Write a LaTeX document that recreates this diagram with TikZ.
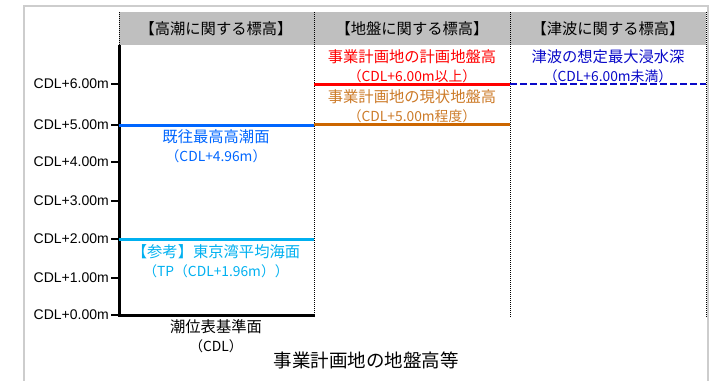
\documentclass[tikz,border=0pt]{standalone}
\usepackage{fontspec}
\newfontfamily\jp{Noto Sans CJK JP}
\newfontfamily\ar{Liberation Sans}
\newcommand\jpa{\jp\fontsize{15.3}{19}\selectfont}
\newcommand\jpb{\jp\fontsize{13.8}{19}\selectfont}
\begin{document}
\begin{tikzpicture}[x=1pt,y=-1pt,
  lab/.style={font=\jpa, inner sep=0pt, align=center},
  ticklab/.style={font=\ar\fontsize{14}{16}\selectfont, anchor=east, inner sep=0pt},
  colsep/.style={black, line width=0.8pt, dash pattern=on 1pt off 1pt},
  lvl/.style={line width=3pt}]
\useasboundingbox (0,0) rectangle (725,380);
\definecolor{hdr}{RGB}{191,191,191}
\definecolor{frm}{RGB}{205,205,205}
\definecolor{hiblue}{RGB}{0,102,255}
\definecolor{cyanl}{RGB}{0,176,240}
\definecolor{orng}{RGB}{204,102,0}
\definecolor{orngt}{RGB}{204,122,40}
\definecolor{navy}{RGB}{10,10,200}
% outer frame
\draw[frm, line width=2pt] (24,390) -- (24,6) -- (708,6) -- (708,390);
% header band
\fill[hdr] (119,12) rectangle (706,45);
\node[lab] (h1) at (216,29) {【高潮に関する標高】};
\node[lab] (h2) at (412,29) {【地盤に関する標高】};
\node[lab] (h3) at (608,29) {【津波に関する標高】};
% column separators
\coordinate (s1t) at (119,12); \coordinate (s1b) at (119,316);
\coordinate (s2t) at (314,12); \coordinate (s2b) at (314,316);
\coordinate (s3t) at (510,12); \coordinate (s3b) at (510,318);
\coordinate (s4t) at (706,12); \coordinate (s4b) at (706,318);
\draw[colsep] (s1t) -- (s1b);
\draw[colsep] (s2t) -- (s2b);
\draw[colsep] (s3t) -- (s3b);
\draw[colsep] (s4t) -- (s4b);
% axis
\coordinate (ax0) at (119,315);
\coordinate (axtop) at (119,45);
\coordinate (axr) at (315,315);
\draw[line width=3pt] (axtop) -- (ax0) -- (axr);
% ticks and labels
\foreach \v/\yy in {0/315,1/277.5,2/239,3/200.5,4/162,5/124.5,6/84}{
  \coordinate (t\v) at (111,\yy);
  \draw[line width=2pt] (t\v) -- (119,\yy);
  \node[ticklab] (tl\v) at (109,\yy) {CDL+\v.00m};
}
% high tide column
\coordinate (b1l) at (119,125); \coordinate (b1r) at (314,125);
\draw[lvl, hiblue] (b1l) -- (b1r);
\node[lab, text=hiblue] (l1) at (216,146) {既往最高高潮面\\\jpb（CDL+4.96m）};
\coordinate (c1l) at (119,239); \coordinate (c1r) at (314,239);
\draw[lvl, cyanl] (c1l) -- (c1r);
\node[lab, text=cyanl] (l2) at (216,261) {【参考】東京湾平均海面\\\jpb（TP（CDL+1.96m））};
% ground column
\coordinate (r1l) at (314,84); \coordinate (r1r) at (510,84);
\draw[lvl, red] (r1l) -- (r1r);
\node[lab, text=red] (l3) at (412,66) {事業計画地の計画地盤高\\\jpb（CDL+6.00m以上）};
\coordinate (o1l) at (314,124); \coordinate (o1r) at (510,124);
\draw[lvl, orng] (o1l) -- (o1r);
\node[lab, text=orngt] (l4) at (412,106) {事業計画地の現状地盤高\\\jpb（CDL+5.00m程度）};
% tsunami column
\coordinate (n1l) at (510,84); \coordinate (n1r) at (706,84);
\draw[navy, line width=1.8pt, dash pattern=on 7pt off 3pt] (n1l) -- (n1r);
\node[lab, text=navy] (l5) at (608,66) {津波の想定最大浸水深\\\jpb（CDL+6.00m未満）};
% bottom labels
\node[lab] (cdl) at (216,336) {潮位表基準面\\\jpb（CDL）};
\node[lab, font=\jp\fontsize{18.5}{20}\selectfont] (title) at (366,360) {事業計画地の地盤高等};
\end{tikzpicture}
\end{document}
